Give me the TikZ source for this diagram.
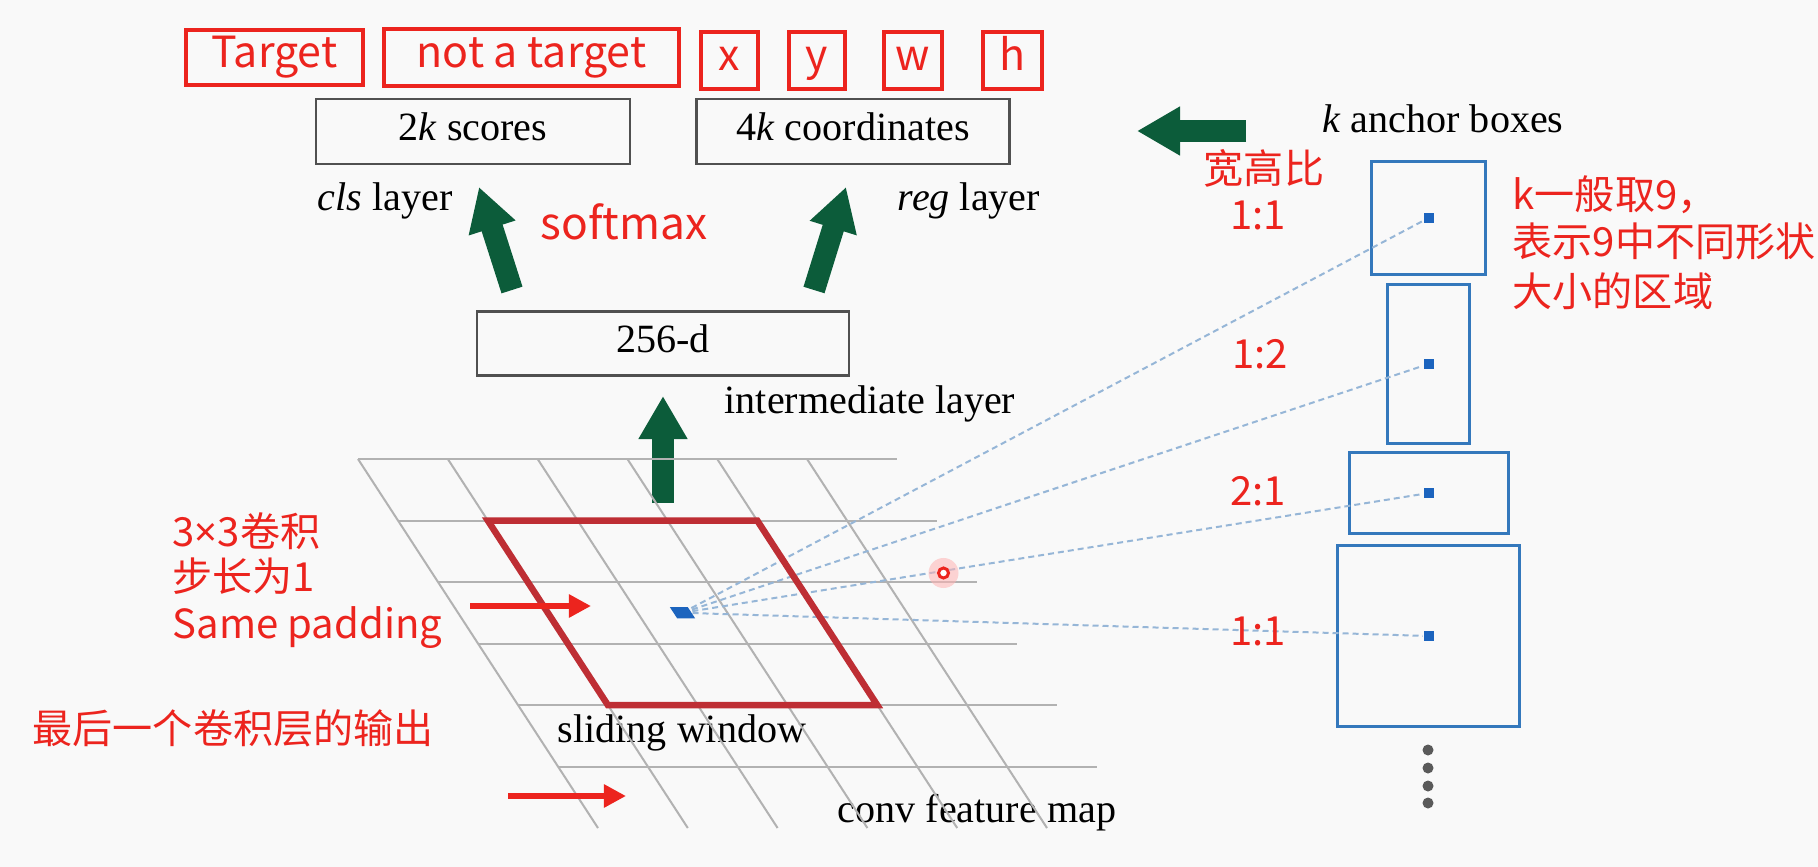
\documentclass[tikz,border=0pt]{standalone}
\usepackage{fontspec}
\setmainfont{Liberation Serif}
\newfontfamily\cjk{Noto Sans CJK SC}
\newfontfamily\latsans{Noto Sans}
\usetikzlibrary{arrows.meta}
\definecolor{bgc}{RGB}{249,249,249}
\definecolor{tred}{RGB}{236,36,30}
\definecolor{wred}{RGB}{190,46,52}
\definecolor{grn}{RGB}{12,92,58}
\definecolor{bboxc}{RGB}{52,120,188}
\definecolor{bdotc}{RGB}{28,100,190}
\definecolor{dashc}{RGB}{150,182,215}
\definecolor{gridc}{RGB}{178,178,178}
\definecolor{boxc}{RGB}{80,80,80}
\definecolor{gdotc}{RGB}{90,90,90}
\begin{document}
\begin{tikzpicture}[x=0.01cm,y=-0.01cm,
  redbox/.style={draw=tred, line width=0.04cm, text=tred, font=\cjk\fontsize{12.2}{14}\selectfont, inner sep=0pt, text height=0.75em, text depth=0.2em, minimum height=0.56cm},
  blackbox/.style={draw=boxc, line width=0.025cm, font=\fontsize{11.4}{13}\selectfont, inner sep=0pt, minimum height=0.65cm, text height=0.7em, text depth=0.2em},
  lbl/.style={font=\fontsize{11.4}{13}\selectfont, inner sep=0pt},
  rlbl/.style={text=tred, font=\cjk\fontsize{11.4}{13}\selectfont, inner sep=0pt},
  garrow/.style={draw=grn, line width=0.22cm, -{Triangle[length=0.43cm,width=0.46cm]}},
  rarrow/.style={draw=tred, line width=0.06cm, -{Triangle[length=0.22cm,width=0.22cm]}},
  gridline/.style={draw=gridc, line width=0.02cm},
  anchorbox/.style={draw=bboxc, line width=0.03cm, inner sep=0pt},
  bdot/.style={fill=bdotc, minimum size=0.1cm, inner sep=0pt},
  dashline/.style={draw=dashc, line width=0.02cm, dash pattern=on 0.06cm off 0.04cm},
  gdot/.style={circle, fill=gdotc, minimum size=0.11cm, inner sep=0pt}
]
\fill[bgc] (0,0) rectangle (1818,867);
\useasboundingbox (0,0) rectangle (1818,867);

% top red boxes
\node[redbox, minimum width=1.77cm, minimum height=0.55cm] (tgt) at (274.5,57.5) {Target};
\node[redbox, minimum width=2.95cm, minimum height=0.56cm] (ntgt) at (531.5,57.5) {not a target};
\node[redbox, minimum width=0.56cm] (bx) at (729.5,60.5) {x};
\node[redbox, minimum width=0.56cm] (by) at (817,60.5) {y};
\node[redbox, minimum width=0.58cm] (bw) at (913,60.5) {w};
\node[redbox, minimum width=0.58cm] (bh) at (1012.5,60.5) {h};

% black boxes
\node[blackbox, minimum width=3.14cm] (cls) at (473,131.5) {2\textit{k} scores};
\node[blackbox, minimum width=3.13cm] (reg) at (853,131.5) {4\textit{k} coordinates};
\node[blackbox, minimum width=3.72cm, minimum height=0.64cm] (mid) at (663,343.5) {256-d};

\node[lbl, anchor=base] (clsl) at (385,211) {\textit{cls} layer};
\node[lbl, anchor=base] (regl) at (969,211) {\textit{reg} layer};
\node[lbl, anchor=base] (intl) at (870,413) {intermediate layer};
\node[lbl, anchor=base] (kab) at (1443,133) {\textit{k} anchor boxes};
\node[lbl, anchor=base] (slw) at (682,742) {sliding window};
\node[lbl, anchor=base] (cfm) at (977,822) {conv feature map};

\node[text=tred, font=\cjk\fontsize{12.6}{15}\selectfont, inner sep=0pt, anchor=base] (soft) at (624,240) {softmax};

% green arrows
\coordinate (g1s) at (512,290); \coordinate (g1e) at (479,187);
\coordinate (g2s) at (814,290); \coordinate (g2e) at (846,187);
\coordinate (g3s) at (663,503); \coordinate (g3e) at (663,396);
\coordinate (g4s) at (1246,131); \coordinate (g4e) at (1137,131);
\draw[garrow] (g1s) -- (g1e);
\draw[garrow] (g2s) -- (g2e);
\draw[garrow] (g3s) -- (g3e);
\draw[garrow] (g4s) -- (g4e);

% grid
\foreach \v in {0,...,5}
  \draw[gridline] ({358+40*\v},{459+61.5*\v}) -- ({358+89.8*6+40*\v},{459+61.5*\v});
\foreach \u in {0,...,5}
  \draw[gridline] ({358+89.8*\u},459) -- ({358+89.8*\u+240},828);

% anchor boxes
\node[anchorbox, minimum width=1.13cm, minimum height=1.12cm] (b1) at (1428.5,218) {};
\node[anchorbox, minimum width=0.81cm, minimum height=1.58cm] (b2) at (1428.5,364) {};
\node[anchorbox, minimum width=1.58cm, minimum height=0.80cm] (b3) at (1429,493) {};
\node[anchorbox, minimum width=1.81cm, minimum height=1.80cm] (b4) at (1428.5,636) {};
\node[bdot] (d1) at (b1.center) {};
\node[bdot] (d2) at (b2.center) {};
\node[bdot] (d3) at (b3.center) {};
\node[bdot] (d4) at (b4.center) {};

% sliding window centre
\coordinate (ctr) at ({358+89.8*2.5+40*2.5},{459+61.5*2.5});
\draw[dashline] (ctr) -- (d1);
\draw[dashline] (ctr) -- (d2);
\draw[dashline] (ctr) -- (d3);
\draw[dashline] (ctr) -- (d4);
\fill[bdotc] ({358+89.8*2.4+40*2.41},{459+61.5*2.41}) -- ({358+89.8*2.6+40*2.41},{459+61.5*2.41})
  -- ({358+89.8*2.6+40*2.59},{459+61.5*2.59}) -- ({358+89.8*2.4+40*2.59},{459+61.5*2.59}) -- cycle;

% red sliding window
\draw[wred, line width=0.065cm, line join=miter]
  ({358+89.8*1+40*1},{459+61.5*1}) -- ({358+89.8*4+40*1},{459+61.5*1})
  -- ({358+89.8*4+40*4},{459+61.5*4}) -- ({358+89.8*1+40*4},{459+61.5*4}) -- cycle;

% cursor mark
\node[circle, fill=red!30, fill opacity=0.55, minimum size=0.3cm, inner sep=0pt] (curg) at (943.5,573) {};
\node[circle, draw=tred, fill=white, line width=0.03cm, minimum size=0.1cm, inner sep=0pt] (cur) at (943.5,573) {};

% gray dots
\node[gdot] (e1) at (1428,750) {};
\node[gdot] (e2) at (1428,768) {};
\node[gdot] (e3) at (1428,786) {};
\node[gdot] (e4) at (1428,803) {};

% red labels
\node[rlbl, anchor=base west] (t33) at (172,546) {3{\latsans×}3卷积};
\node[rlbl, anchor=base west] (tstep) at (172,591) {步长为1};
\node[rlbl, anchor=base west] (tpad) at (172,638) {Same padding};
\node[rlbl, anchor=base west] (tlast) at (32,743) {最后一个卷积层的输出};
\coordinate (r1s) at (470,606); \coordinate (r1e) at (591,606);
\coordinate (r2s) at (508,796); \coordinate (r2e) at (626,796);
\draw[rarrow] (r1s) -- (r1e);
\draw[rarrow] (r2s) -- (r2e);

\node[rlbl, anchor=base] (kgb) at (1264,183) {宽高比};
\node[rlbl, anchor=base] (r11a) at (1258,230) {1:1};
\node[rlbl, anchor=base] (r12) at (1260,368) {1:2};
\node[rlbl, anchor=base] (r21) at (1258,505) {2:1};
\node[rlbl, anchor=base] (r11b) at (1258,645) {1:1};
\node[rlbl, anchor=base west] (kn1) at (1512,209) {k一般取9，};
\node[rlbl, anchor=base west] (kn2) at (1512,257) {表示9中不同形状};
\node[rlbl, anchor=base west] (kn3) at (1512,306) {大小的区域};
\end{tikzpicture}
\end{document}
